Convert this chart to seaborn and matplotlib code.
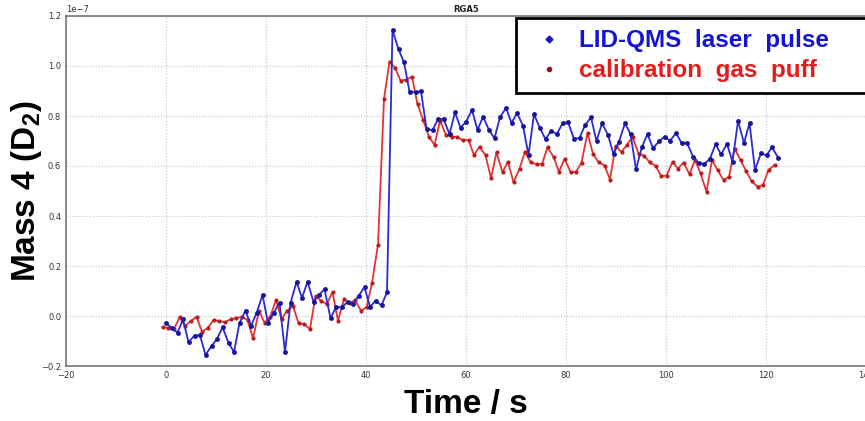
import numpy as np
import pandas as pd
import seaborn as sns
import matplotlib.pyplot as plt
from matplotlib.lines import Line2D

# time axis (s) and signal (units of 1e-7)
blue_time = [0.0, 1.1, 2.3, 3.4, 4.5, 5.7, 6.8, 7.9, 9.1, 10.2, 11.3, 12.5, 13.6, 14.7, 15.9,
             17.0, 18.1, 19.3, 20.4, 21.5, 22.7, 23.8, 24.9, 26.1, 27.2, 28.3, 29.5, 30.6, 31.7,
             32.9, 34.0, 35.1, 36.3, 37.4, 38.5, 39.7, 40.8, 41.9, 43.1, 44.2, 45.3, 46.5, 47.6,
             48.7, 49.9, 51.0, 52.1, 53.3, 54.4, 55.5, 56.7, 57.8, 58.9, 60.0, 61.2, 62.3, 63.4,
             64.6, 65.7, 66.8, 68.0, 69.1, 70.2, 71.4, 72.5, 73.6, 74.8, 75.9, 77.0, 78.2, 79.3,
             80.4, 81.6, 82.7, 83.8, 85.0, 86.1, 87.2, 88.4, 89.5, 90.6, 91.8, 92.9, 94.0, 95.2,
             96.3, 97.4, 98.6, 99.7, 100.8, 102.0, 103.1, 104.2, 105.4, 106.5, 107.6, 108.8,
             109.9, 111.0, 112.2, 113.3, 114.4, 115.6, 116.7, 117.8, 119.0, 120.1, 121.2, 122.4]
blue_vals = [-0.028, -0.047, -0.067, -0.013, -0.105, -0.078, -0.077, -0.156, -0.120, -0.092,
             -0.045, -0.107, -0.144, -0.028, 0.022, -0.040, 0.011, 0.084, -0.027, 0.011,
             0.053, -0.144, 0.051, 0.137, 0.072, 0.137, 0.057, 0.084, 0.108, -0.009,
             0.035, 0.035, 0.055, 0.048, 0.080, 0.115, 0.037, 0.060, 0.043, 0.095,
             1.144, 1.067, 1.015, 0.897, 0.895, 0.899, 0.749, 0.743, 0.787, 0.789,
             0.727, 0.815, 0.753, 0.777, 0.824, 0.744, 0.797, 0.744, 0.711, 0.795,
             0.832, 0.772, 0.812, 0.761, 0.644, 0.807, 0.751, 0.707, 0.740, 0.728,
             0.771, 0.775, 0.709, 0.712, 0.763, 0.795, 0.699, 0.771, 0.724, 0.647,
             0.697, 0.771, 0.728, 0.587, 0.677, 0.727, 0.671, 0.699, 0.717, 0.701,
             0.731, 0.693, 0.693, 0.637, 0.611, 0.607, 0.629, 0.687, 0.647, 0.688,
             0.617, 0.780, 0.692, 0.772, 0.584, 0.651, 0.643, 0.675, 0.634]

red_time = [-0.7, 0.4, 1.6, 2.7, 3.8, 5.0, 6.1, 7.2, 8.4, 9.5, 10.6, 11.8, 12.9, 14.0, 15.2,
            16.3, 17.4, 18.6, 19.7, 20.8, 22.0, 23.1, 24.2, 25.4, 26.5, 27.6, 28.8, 29.9, 31.0,
            32.2, 33.3, 34.4, 35.6, 36.7, 37.8, 39.0, 40.1, 41.2, 42.4, 43.6, 44.7, 45.8, 46.9,
            48.0, 49.2, 50.3, 51.4, 52.6, 53.7, 54.8, 56.0, 57.1, 58.2, 59.3, 60.5, 61.6, 62.7,
            63.9, 65.0, 66.1, 67.3, 68.4, 69.5, 70.7, 71.8, 72.9, 74.1, 75.2, 76.3, 77.5, 78.6,
            79.7, 80.9, 82.0, 83.1, 84.3, 85.4, 86.5, 87.7, 88.8, 89.9, 91.1, 92.2, 93.3, 94.5,
            95.6, 96.7, 97.9, 99.0, 100.1, 101.3, 102.4, 103.5, 104.7, 105.8, 106.9, 108.1,
            109.2, 110.3, 111.5, 112.6, 113.7, 114.9, 116.0, 117.1, 118.3, 119.4, 120.5, 121.7]
red_vals = [-0.045, -0.048, -0.053, -0.005, -0.040, -0.020, -0.003, -0.063, -0.047, -0.016,
            -0.020, -0.025, -0.013, -0.009, -0.003, -0.016, -0.089, 0.021, -0.027, -0.005,
            0.064, -0.013, 0.021, 0.040, -0.029, -0.032, -0.052, 0.080, 0.061, 0.048,
            0.097, -0.019, 0.067, 0.051, 0.064, 0.021, 0.035, 0.131, 0.286, 0.868,
            1.018, 0.993, 0.942, 0.945, 0.957, 0.847, 0.786, 0.717, 0.684, 0.781,
            0.724, 0.717, 0.717, 0.704, 0.704, 0.644, 0.677, 0.643, 0.551, 0.655,
            0.575, 0.617, 0.535, 0.589, 0.657, 0.615, 0.607, 0.607, 0.675, 0.637,
            0.577, 0.629, 0.576, 0.576, 0.614, 0.732, 0.649, 0.615, 0.602, 0.546,
            0.680, 0.656, 0.685, 0.716, 0.650, 0.642, 0.616, 0.600, 0.561, 0.561,
            0.617, 0.589, 0.614, 0.567, 0.624, 0.571, 0.497, 0.624, 0.584, 0.544,
            0.557, 0.670, 0.624, 0.580, 0.540, 0.517, 0.524, 0.584, 0.604]

labels = ["LID-QMS  laser  pulse", "calibration  gas  puff"]

blue_df = pd.DataFrame({"t": blue_time, "v": np.array(blue_vals) * 1e-7})
red_df = pd.DataFrame({"t": red_time, "v": np.array(red_vals) * 1e-7})

sns.set_style("white")
plt.rcParams['font.family'] = ['DejaVu Sans']
plt.rcParams['mathtext.fontset'] = 'custom'
plt.rcParams['mathtext.rm'] = 'Liberation Sans:bold'
plt.rcParams['mathtext.bf'] = 'Liberation Sans:bold'

fig = plt.figure(figsize=(8.65, 4.21), dpi=100)
ax = fig.add_axes([66 / 865, 55 / 421, 800 / 865, 350 / 421])

sns.lineplot(data=red_df, x="t", y="v", ax=ax, color="#e23434", lw=1.3,
             marker="o", markersize=3, markeredgewidth=0, markerfacecolor="#b81e1e",
             estimator=None, sort=False)
sns.lineplot(data=blue_df, x="t", y="v", ax=ax, color="#2a2ad6", lw=1.3,
             marker="o", markersize=3.5, markeredgewidth=0, markerfacecolor="#16169a",
             estimator=None, sort=False)

ax.set_xlim(-20, 140)
ax.set_ylim(-0.2e-7, 1.2e-7)
ax.set_xticks(range(-20, 141, 20))
ax.set_yticks(np.arange(-0.2, 1.21, 0.2) * 1e-7)
ax.tick_params(labelsize=6, colors="#333333", length=3, direction="in")
ax.yaxis.get_offset_text().set_fontsize(6)
ax.grid(True, linestyle=":", color="#c4c4c4", linewidth=0.8)
for s in ax.spines.values():
    s.set_color("#777777")
    s.set_linewidth(1.2)

ax.set_title("RGA5", fontsize=6, fontweight="bold", pad=3, color="#222222")
ax.set_xlabel("Time / s", fontsize=24, fontweight="bold", family="Liberation Sans", color="black")
ax.set_ylabel(r"Mass 4 (D$_\mathrm{2}$)", fontsize=24, fontweight="bold",
              family="Liberation Sans", color="black")
ax.xaxis.set_label_coords(0.5, -0.065)
ax.yaxis.set_label_coords(-0.028, 0.5)

handles = [Line2D([], [], ls="none", marker="D", markersize=3.5, color="#1a1ab8"),
           Line2D([], [], ls="none", marker="o", markersize=3, color="#8e1a1a")]
leg = ax.legend(handles, labels, loc="upper left",
                bbox_to_anchor=(0.5625, 0.766, 0.4375, 0.228),
                mode="expand", borderaxespad=0, borderpad=0.45, handlelength=1.8,
                handletextpad=0.35, labelspacing=0.3, fancybox=False, framealpha=1,
                labelcolor=["#1414d4", "#e41c1c"],
                prop={"family": "Liberation Sans", "weight": "bold", "size": 17.5})
leg.get_frame().set_edgecolor("black")
leg.get_frame().set_linewidth(2)

fig.savefig("out.png", dpi=100)
